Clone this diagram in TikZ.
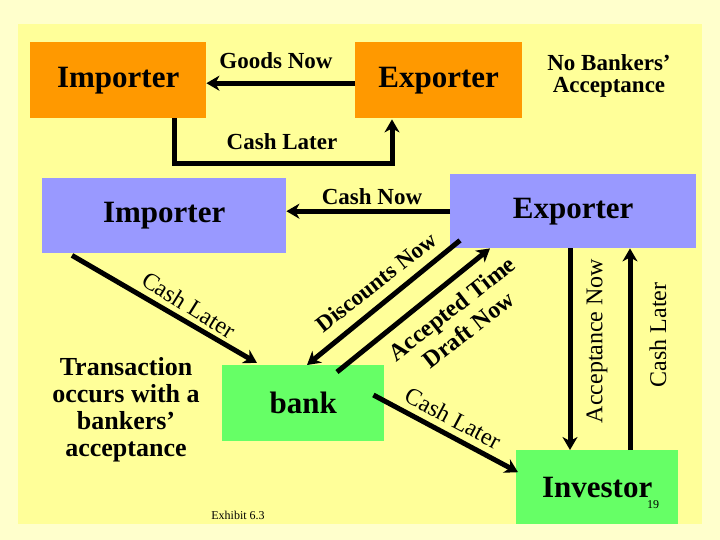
\documentclass[tikz,border=0pt]{standalone}
\usepackage{fontspec}
\setmainfont{Liberation Serif}
\usetikzlibrary{arrows.meta,positioning}
\definecolor{paleyel}{HTML}{FFFFCC}
\definecolor{slideyel}{HTML}{FFFF99}
\definecolor{impor}{HTML}{FF9900}
\definecolor{impblue}{HTML}{9999FF}
\definecolor{bankgreen}{HTML}{66FF66}
\newcommand{\bigtxt}{\fontsize{31}{31}\selectfont\bfseries}
\newcommand{\lbltxt}{\fontsize{23}{22}\selectfont\bfseries}

\begin{document}
\begin{tikzpicture}[%
    x=1pt,
    y=-1pt,
    party/.style={%
        anchor=north west,
        inner sep=0pt,
        font=\bigtxt,
    },
    orangebox/.style={party, fill=impor},
    bluebox/.style={party, fill=impblue},
    greenbox/.style={party, fill=bankgreen},
    arr/.style={%
        line width=5pt,
        -{Stealth[length=13pt,width=15pt,inset=4pt]},
    },
    lbl/.style={font=\lbltxt, align=center, inner sep=0pt},
    flowlbl/.style={font=\fontsize{24}{24}\selectfont, inner sep=0pt},
]
\useasboundingbox (0,0) rectangle (720,540);
    \fill[paleyel] (0,0) rectangle (720,540);
    \fill[slideyel] (18,24) rectangle (702,524);

    % no bankers' acceptance
    \node[orangebox, minimum width=176pt, minimum height=76pt] (impA) at (30,42) {Importer};
    \node[orangebox, minimum width=167pt, minimum height=76pt] (expA) at (355,42) {Exporter};
    \node[lbl] (goods) at (276,61) {Goods Now};
    \node[lbl] (nba) at (609,76) {No Bankers'\\Acceptance};
    \node[lbl] (cashA) at (282,142) {Cash Later};
    \draw[arr] ([yshift=-3pt]expA.west) -- ([yshift=-3pt]impA.east);
    \draw[arr] ([xshift=-32pt]impA.south east) -- ++(0,45) -| ([xshift=37pt,yshift=-1pt]expA.south west);

    % with a bankers' acceptance
    \node[bluebox, minimum width=244pt, minimum height=75pt] (impB) at (42,178) {Importer};
    \node[bluebox, minimum width=246pt, minimum height=74pt] (expB) at (450,174) {Exporter};
    \node[greenbox, minimum width=162pt, minimum height=76pt] (bank) at (222,365) {bank};
    \node[greenbox, minimum width=162pt, minimum height=74pt] (inv) at (516,450) {Investor};

    \node[lbl] (cashnow) at (372,197) {Cash Now};
    \node[font=\fontsize{26}{27}\selectfont\bfseries, align=center, inner sep=0pt] (trans) at (126,410)
        {Transaction\\occurs with a\\bankers'\\acceptance};

    \draw[arr] (expB.west) -- (expB.west -| impB.east);
    \draw[arr] ([xshift=30pt,yshift=-2pt]impB.south west) -- ([xshift=35pt,yshift=2pt]bank.north west);
    \draw[arr] ([xshift=10pt,yshift=8pt]expB.south west) -- ([xshift=85pt]bank.north west);
    \draw[arr] ([xshift=115pt,yshift=-7pt]bank.north west) -- ([xshift=40pt]expB.south west);
    \draw[arr] ([xshift=-11pt,yshift=-30pt]bank.north east) -- ([xshift=2pt,yshift=15pt]inv.west);
    \draw[arr] ([xshift=120pt]expB.south west) -- ([xshift=54pt]inv.north west);
    \draw[arr] ([xshift=114pt]inv.north west) -- ([xshift=180pt]expB.south west);

    \node[flowlbl, rotate=-32] (cashB) at (189,305) {Cash Later};
    \node[lbl, rotate=38] (disc) at (376,282) {Discounts Now};
    \node[lbl, font=\fontsize{24}{27}\selectfont\bfseries, rotate=38] (accept) at (460,319) {Accepted Time\\Draft Now};
    \node[flowlbl, rotate=-28] (cashC) at (453,418) {Cash Later};
    \node[flowlbl, rotate=90] (accnow) at (597,341) {Acceptance Now};
    \node[flowlbl, rotate=90] (cashD) at (658,335) {Cash Later};

    \node[font=\fontsize{12}{12}\selectfont, inner sep=0pt] (exhibit) at (238,515) {Exhibit 6.3};
    \node[font=\fontsize{12}{12}\selectfont, inner sep=0pt] (page) at (653,505) {19};
\end{tikzpicture}
\end{document}
